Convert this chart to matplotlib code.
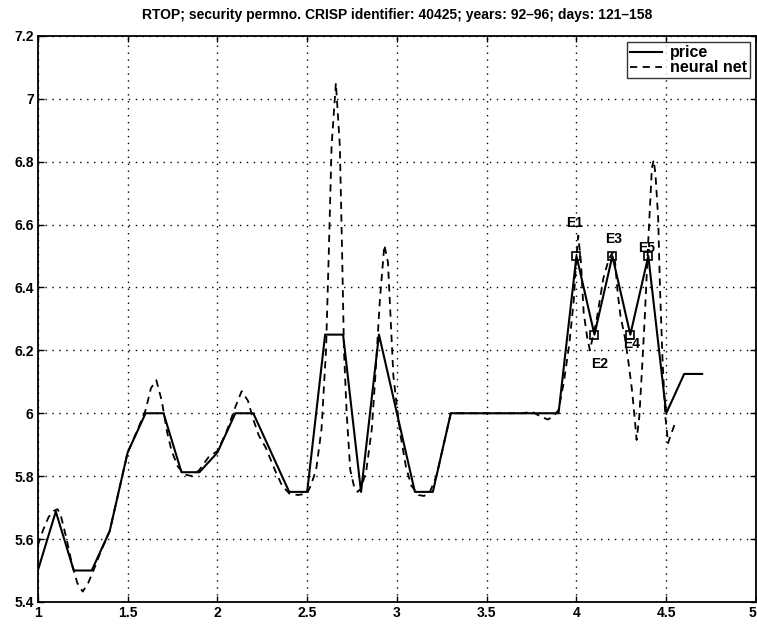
import matplotlib
matplotlib.use("Agg")
import matplotlib.pyplot as plt

plt.rcParams['font.family'] = ['Liberation Sans', 'DejaVu Sans']

title = "RTOP; security permno. CRISP identifier: 40425; years: 92\u201396; days: 121\u2013158"

# daily closing prices (one unit on the x axis = 10 trading days)
price_x = [1.0, 1.1, 1.2, 1.3, 1.4, 1.5, 1.6, 1.7, 1.8, 1.9,
           2.0, 2.1, 2.2, 2.3, 2.4, 2.5, 2.6, 2.7, 2.8, 2.9,
           3.0, 3.1, 3.2, 3.3, 3.4, 3.5, 3.6, 3.7, 3.8, 3.9,
           4.0, 4.1, 4.2, 4.3, 4.4, 4.5, 4.6, 4.7]
price_y = [5.5, 5.6875, 5.5, 5.5, 5.625, 5.875, 6.0, 6.0, 5.8125, 5.8125,
           5.875, 6.0, 6.0, 5.875, 5.75, 5.75, 6.25, 6.25, 5.75, 6.25,
           6.0, 5.75, 5.75, 6.0, 6.0, 6.0, 6.0, 6.0, 6.0, 6.0,
           6.5, 6.25, 6.5, 6.25, 6.5, 6.0, 6.125, 6.125]

# neural network (kernel) fit of the price path
nn_x = [1.00, 1.03, 1.06, 1.09, 1.11, 1.13, 1.16, 1.19, 1.22, 1.25,
        1.28, 1.31, 1.35, 1.40, 1.45, 1.50, 1.55, 1.60, 1.63, 1.66,
        1.69, 1.72, 1.745, 1.78, 1.82, 1.86, 1.90, 1.95, 2.00, 2.05,
        2.10, 2.135, 2.17, 2.20, 2.23, 2.27, 2.32, 2.36, 2.40, 2.45,
        2.50, 2.52, 2.55, 2.58, 2.605, 2.62, 2.636, 2.66, 2.682, 2.695,
        2.705, 2.72, 2.74, 2.76, 2.78, 2.80, 2.83, 2.86, 2.88, 2.905,
        2.93, 2.95, 2.965, 2.98, 3.00, 3.02, 3.05, 3.08, 3.12, 3.15,
        3.18, 3.22, 3.26, 3.30, 3.35, 3.50, 3.70, 3.75, 3.80, 3.84,
        3.87, 3.90, 3.93, 3.96, 3.985, 4.00, 4.01, 4.025, 4.04, 4.06,
        4.075, 4.09, 4.11, 4.15, 4.18, 4.20, 4.215, 4.23, 4.245, 4.27,
        4.29, 4.31, 4.325, 4.335, 4.35, 4.365, 4.38, 4.40, 4.42, 4.43,
        4.44, 4.455, 4.465, 4.48, 4.495, 4.51, 4.525, 4.55]
nn_y = [5.58, 5.63, 5.67, 5.69, 5.695, 5.67, 5.60, 5.52, 5.46, 5.433,
        5.46, 5.50, 5.56, 5.625, 5.75, 5.875, 5.94, 6.01, 6.08, 6.105,
        6.04, 5.94, 5.88, 5.83, 5.805, 5.80, 5.82, 5.86, 5.88, 5.94,
        6.02, 6.07, 6.04, 5.98, 5.93, 5.89, 5.82, 5.77, 5.745, 5.74,
        5.745, 5.77, 5.82, 5.95, 6.20, 6.50, 6.85, 7.05, 6.85, 6.50,
        6.20, 6.00, 5.82, 5.77, 5.75, 5.76, 5.82, 5.95, 6.12, 6.36,
        6.535, 6.48, 6.30, 6.12, 6.02, 5.93, 5.83, 5.77, 5.74, 5.737,
        5.745, 5.80, 5.90, 6.00, 6.00, 6.00, 6.00, 6.005, 5.99, 5.98,
        5.99, 6.01, 6.10, 6.22, 6.36, 6.50, 6.565, 6.48, 6.32, 6.24,
        6.20, 6.24, 6.29, 6.43, 6.49, 6.51, 6.48, 6.38, 6.31, 6.24,
        6.16, 6.07, 5.98, 5.915, 5.99, 6.14, 6.30, 6.55, 6.78, 6.805,
        6.76, 6.62, 6.40, 6.16, 5.99, 5.905, 5.93, 5.97]

# labelled extrema of the price path
ext_labels = ["E1", "E2", "E3", "E4", "E5"]
ext_x = [4.0, 4.1, 4.2, 4.3, 4.4]
ext_y = [6.5, 6.25, 6.5, 6.25, 6.5]
ext_offsets = [(-1, 24), (4, -21), (1, 12), (1, -7), (-1, 6)]

x_ticks = [1, 1.5, 2, 2.5, 3, 3.5, 4, 4.5, 5]
x_tick_labels = ["1", "1.5", "2", "2.5", "3", "3.5", "4", "4.5", "5"]
y_ticks = [5.4, 5.6, 5.8, 6.0, 6.2, 6.4, 6.6, 6.8, 7.0, 7.2]
y_tick_labels = ["5.4", "5.6", "5.8", "6", "6.2", "6.4", "6.6", "6.8", "7", "7.2"]

fig = plt.figure(figsize=(7.57, 6.29), dpi=100)
ax = fig.add_axes([0.050, 0.043, 0.9487, 0.900])

ax.plot(price_x, price_y, color='black', linewidth=1.5, linestyle='-', label='price')
ax.plot(nn_x, nn_y, color='black', linewidth=1.3, linestyle=(0, (4, 3)), label='neural net')
ax.plot(ext_x, ext_y, linestyle='none', marker='s', markersize=5.5,
        markerfacecolor='none', markeredgecolor='black', markeredgewidth=1.2)

for lab, xv, yv, off in zip(ext_labels, ext_x, ext_y, ext_offsets):
    ax.annotate(lab, xy=(xv, yv), xytext=off, textcoords='offset points',
                ha='center', va='center', fontsize=10, fontweight='bold')

ax.set_xlim(1, 5)
ax.set_ylim(5.4, 7.2)
ax.set_xticks(x_ticks)
ax.set_xticklabels(x_tick_labels)
ax.set_yticks(y_ticks)
ax.set_yticklabels(y_tick_labels)
ax.tick_params(direction='in', top=True, right=True, length=4, width=1,
               labelsize=10, pad=3)
for lbl in ax.get_xticklabels() + ax.get_yticklabels():
    lbl.set_fontweight('bold')
# the last x label sits at the figure's right edge
ax.get_xticklabels()[-1].set_horizontalalignment('right')

ax.grid(True, linestyle=(0, (1, 4)), color='black', linewidth=1.0)
for sp in ax.spines.values():
    sp.set_linewidth(1.3)

ax.set_title(title, fontsize=10, fontweight='bold', pad=12)

leg = ax.legend(loc='upper right', bbox_to_anchor=(0.9916, 0.989), borderaxespad=0,
                fontsize=11.5, frameon=True, fancybox=False, handlelength=2.0,
                handletextpad=0.5, borderpad=0.2, labelspacing=0.0)
leg.get_frame().set_edgecolor('black')
leg.get_frame().set_linewidth(1.0)
for t in leg.get_texts():
    t.set_fontweight('bold')

fig.savefig("out.png", dpi=100)
